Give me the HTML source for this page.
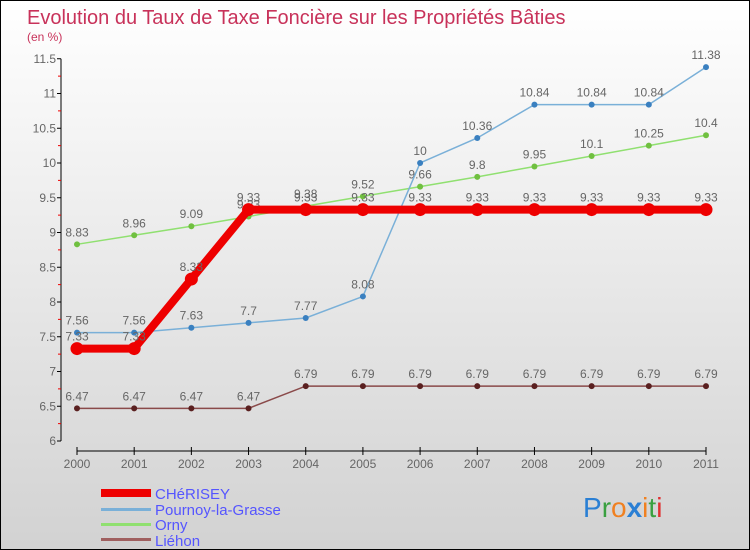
<!DOCTYPE html>
<html><head><meta charset="utf-8"><style>
body{margin:0}
#c{width:750px;height:550px;position:relative;box-sizing:border-box;border:1px solid #000;background:linear-gradient(#ffffff,#d2d2d2);font-family:"Liberation Sans",sans-serif;overflow:hidden}
</style></head><body>
<div id="c">
<svg id="s" width="750" height="550" style="position:absolute;left:0;top:0">
<text x="26" y="23" font-size="20" fill="#c8325a">Evolution du Taux de Taxe Foncière sur les Propriétés Bâties</text>
<text x="26" y="40" font-size="12" fill="#c8325a">(en %)</text>
<g font-size="15" fill="#5555ff">
<rect x="100" y="488" width="50" height="8" fill="#ee0000"/>
<text x="154" y="498">CHéRISEY</text>
<rect x="100" y="507" width="50" height="3" fill="#7ab0d8"/>
<text x="154" y="514">Pournoy-la-Grasse</text>
<rect x="100" y="522" width="50" height="3" fill="#90e070"/>
<text x="154" y="529">Orny</text>
<rect x="100" y="537" width="50" height="3" fill="#a06060"/>
<text x="154" y="545">Liéhon</text>
</g>
<g font-size="28">
<text x="582" y="516"><tspan fill="#2a7fd4">P</tspan><tspan fill="#3aa040">r</tspan><tspan fill="#f08020">o</tspan><tspan fill="#2a7fd4" font-weight="bold">x</tspan><tspan fill="#f08020">i</tspan><tspan fill="#3aa040">t</tspan><tspan fill="#e03030">i</tspan></text>
</g>
</svg>
</div>
<script>
const years=["2000","2001","2002","2003","2004","2005","2006","2007","2008","2009","2010","2011"];
const yTicks=[6,6.5,7,7.5,8,8.5,9,9.5,10,10.5,11,11.5];
const cherisey=[7.33,7.33,8.33,9.33,9.33,9.33,9.33,9.33,9.33,9.33,9.33,9.33];
const pournoy=[7.56,7.56,7.63,7.7,7.77,8.08,10,10.36,10.84,10.84,10.84,11.38];
const orny=[8.83,8.96,9.09,9.23,9.38,9.52,9.66,9.8,9.95,10.1,10.25,10.4];
const liehon=[6.47,6.47,6.47,6.47,6.79,6.79,6.79,6.79,6.79,6.79,6.79,6.79];
const svg=document.getElementById('s');const NS='http://www.w3.org/2000/svg';
function X(i){return 76+i*(705-76)/11;}
function Y(v){return 440-(v-6)*69.5;}
function mk(t,a,p){const e=document.createElementNS(NS,t);for(const k in a)e.setAttribute(k,a[k]);(p||svg).appendChild(e);return e;}
const ax=mk('g',{});


mk('line',{x1:60,y1:Y(11.5),x2:60,y2:440,stroke:'#000'},ax);
mk('line',{x1:76,y1:450,x2:705,y2:450,stroke:'#000'},ax);
yTicks.forEach(v=>{mk('line',{x1:56,x2:60,y1:Y(v),y2:Y(v),stroke:'#000'},ax);
 if(v<11.5)mk('line',{x1:57,x2:60,y1:Y(v+0.25),y2:Y(v+0.25),stroke:'#e00'},ax);
 const t=mk('text',{x:55,y:Y(v)+4,'font-size':12,fill:'#666','text-anchor':'end'},ax);t.textContent=String(v);
 
 });
years.forEach((y,i)=>{mk('line',{x1:X(i),x2:X(i),y1:446,y2:454,stroke:'#000'},ax);
 const t=mk('text',{x:X(i),y:467,'font-size':12,fill:'#666','text-anchor':'middle'},ax);t.textContent=y;
 
 });
function series(name,d,col,w,r,dot){const g=mk('g',{});
 
 
 mk('polyline',{points:d.map((v,i)=>X(i)+','+Y(v)).join(' '),fill:'none',stroke:col,'stroke-width':w},g);
 d.forEach((v,i)=>{const c=mk('circle',{cx:X(i),cy:Y(v),r:r,fill:dot},g);
  
  
  const t=mk('text',{x:X(i),y:Y(v)-8,'font-size':12,fill:'#666','text-anchor':'middle'},g);t.textContent=String(v);
  
  });}
series('liehon',liehon,'#8a4a4a',1.5,3,'#5a2020');
series('orny',orny,'#90e070',1.5,3,'#70c040');
series('pournoy',pournoy,'#7ab0d8',1.5,3,'#3a80c0');
series('cherisey',cherisey,'#ee0000',8,6.5,'#ee0000');
</script>
</body></html>
